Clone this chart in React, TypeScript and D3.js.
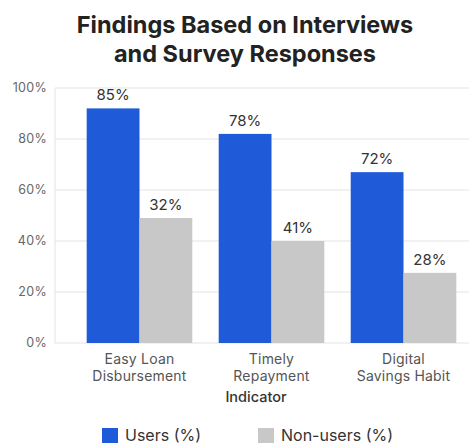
import React from "react";
import * as d3 from "d3";

const categories = ["Easy Loan|Disbursement", "Timely|Repayment", "Digital|Savings Habit"];
const seriesNames = ["Users (%)", "Non-users (%)"];
const usersValues = [92, 82, 67];
const nonUsersValues = [49, 40, 27.5];
const usersLabels = ["85%", "78%", "72%"];
const nonUsersLabels = ["32%", "41%", "28%"];
const yTicks = [0, 20, 40, 60, 80, 100];
const colors = ["#1f5bd8", "#c8c8c8"];

const W = 469;
const H = 446;
const FONT = "Inter, sans-serif";

export default function App() {
  const x = d3.scaleBand<number>().domain([0, 1, 2]).range([55, 488]).paddingInner(0.2).paddingOuter(0.24);
  const xi = d3.scaleBand<number>().domain([0, 1]).range([0, x.bandwidth()]).padding(0);
  const y = d3.scaleLinear().domain([0, 100]).range([343, 88]);
  const series = [usersValues, nonUsersValues];
  const labels = [usersLabels, nonUsersLabels];

  return (
    <svg width={W} height={H} style={{ position: "absolute", left: 0, top: 0, background: "#fff" }}>
      <text x={245} y={33} textAnchor="middle" fontFamily={FONT} fontWeight={700} fontSize={23.5} fill="#222">
        Findings Based on Interviews
      </text>
      <text x={245} y={62} textAnchor="middle" fontFamily={FONT} fontWeight={700} fontSize={23.5} fill="#222">
        and Survey Responses
      </text>
      {yTicks.map((t) => (
        <g key={t}>
          <line x1={55} x2={W} y1={y(t)} y2={y(t)} stroke="#e3e3e3" strokeWidth={1} />
          <text x={47} y={y(t)} dy="0.35em" textAnchor="end" fontFamily={FONT} fontSize={12.5} letterSpacing={0.3} fill="#666">
            {t}%
          </text>
        </g>
      ))}
      <line x1={55} x2={55} y1={y(100)} y2={y(0)} stroke="#e3e3e3" strokeWidth={1} />
      {categories.map((c, i) => (
        <g key={c} transform={`translate(${x(i)},0)`}>
          {series.map((vals, s) => (
            <g key={s}>
              <rect
                x={xi(s)}
                y={y(vals[i])}
                width={xi.bandwidth()}
                height={y(0) - y(vals[i])}
                fill={colors[s]}
              />
              <text
                x={(xi(s) as number) + xi.bandwidth() / 2}
                y={y(vals[i]) - 8}
                textAnchor="middle"
                fontFamily={FONT}
                fontSize={15}
                fill="#333"
              >
                {labels[s][i]}
              </text>
            </g>
          ))}
          {c.split("|").map((line, k) => (
            <text
              key={k}
              x={x.bandwidth() / 2}
              y={364 + k * 16.5}
              textAnchor="middle"
              fontFamily={FONT}
              fontSize={14}
              letterSpacing={0.2}
              fill="#555"
            >
              {line}
            </text>
          ))}
        </g>
      ))}
      <text x={256} y={402} textAnchor="middle" fontFamily={FONT} fontWeight={500} fontSize={14.5} fill="#333">
        Indicator
      </text>
      {seriesNames.map((n, s) => {
        const lx = [102, 258][s];
        return (
          <g key={n}>
            <rect x={lx} y={428} width={16} height={15} fill={colors[s]} />
            <text x={lx + 23} y={441} fontFamily={FONT} fontSize={16} fill="#333">
              {n}
            </text>
          </g>
        );
      })}
    </svg>
  );
}
